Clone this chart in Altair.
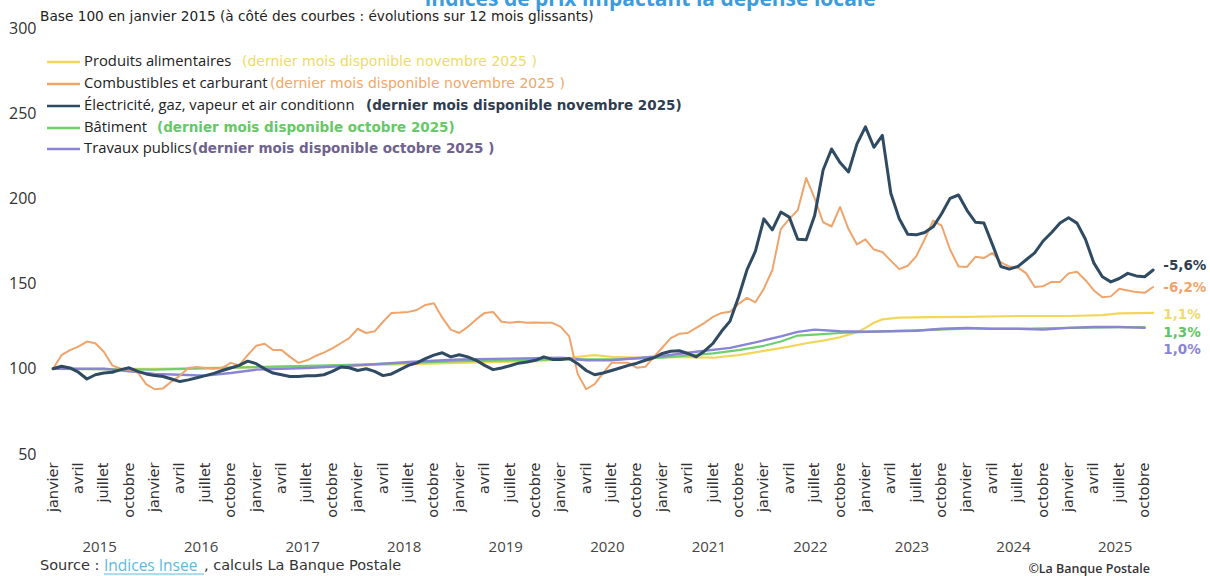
import altair as alt
import pandas as pd

FONT = "Open Sans"
WIDE = "DejaVu Sans"

# ---- data (month index 0 = janvier 2015) ----
fuel = [100, 108, 111, 113, 116, 115, 110, 102, 100, 99.5,
        98, 91, 88, 88.5, 92.5, 96, 100.5, 101, 100.5, 100,
        100.5, 103.5, 102, 108, 113.5, 114.7, 111, 111, 107, 103.5,
        105, 107.5, 109.5, 112, 115, 118, 123.5, 121, 122, 127.6,
        132.8, 133, 133.4, 134.5, 137.5, 138.5, 130, 123, 121, 124.6,
        129, 132.8, 133.4, 127.6, 127, 127.6, 127, 127.2, 127, 127,
        124.6, 119, 97, 88, 91, 97.5, 103.5, 103.5, 103.5, 100.6,
        101.2, 107, 112.5, 118, 120.5, 121, 124, 127, 130.5, 132.8,
        133.5, 138, 141.6, 139, 147, 158, 182, 188, 193, 212,
        200, 186, 183.5, 195, 182, 173, 176, 170, 168.5, 163.5,
        158.5, 160.5, 166, 176, 187, 184, 170, 160, 159.8, 165.7,
        165, 168, 162.5, 160, 159.5, 156, 148, 148.5, 151, 151,
        156, 157, 152, 146, 142, 142.5, 147, 146, 145, 144.6,
        148]

elec = [100, 101.5, 100.5, 98, 94, 96.5, 97.5, 98, 99.5, 100.6,
        98.5, 97, 96, 95.5, 94, 92.5, 93.5, 94.7, 96, 97.3,
        99, 100.5, 102, 104.5, 103, 100, 97.5, 96.5, 95.5, 95.5,
        95.9, 95.9, 96.5, 98.5, 101, 100.6, 99, 100, 98.5, 96,
        97, 99.5, 102, 103.5, 106, 108, 109.4, 107, 108.2, 107,
        105, 102, 99.5, 100.5, 101.8, 103.3, 104, 105, 107, 105.5,
        105.5, 106, 103, 99, 96.5, 97.5, 99, 100.5, 102, 103.3,
        105, 106.5, 109, 110.3, 110.6, 109, 107, 110.5, 115, 122,
        128, 142, 158, 169, 188, 181.5, 192, 189, 176, 175.7,
        190, 216.7, 229, 221, 215.5, 232, 242, 230, 237, 203,
        188, 179, 178.6, 180, 183.3, 191, 200, 202, 193, 186,
        185.6, 173, 160, 158.5, 160, 164, 168, 175, 180, 185.6,
        188.6, 185.5, 176, 162, 154, 151, 153, 156, 154.5, 154,
        158]

food_m = [0, 12, 24, 36, 48, 57, 60, 62, 64, 66, 69, 72, 78, 81, 84, 87, 89, 91, 93,
          95, 96, 97, 98, 100, 104, 108, 114, 120, 124, 126, 130]
food_v = [100, 100, 101, 102, 103.5, 104.5, 105.5, 107, 108, 107, 106.5, 107, 106.5, 108,
          110.5, 113, 115, 116.5, 118.5, 121.5, 124, 127, 129, 130, 130.3, 130.5, 131, 131,
          131.5, 132.5, 132.8]

bat_m = [0, 12, 24, 36, 48, 60, 63, 66, 72, 78, 81, 84, 86, 88, 90, 93, 96, 102, 108,
         114, 120, 126, 129]
bat_v = [100, 99.5, 101, 102.5, 104.5, 105.5, 105.5, 105.5, 106.5, 109, 111, 113.5, 116,
         119.5, 120, 121, 121.7, 122.5, 123.5, 123.5, 124, 124.5, 124.5]

tp_m = [0, 6, 12, 15, 18, 21, 24, 30, 36, 42, 48, 54, 60, 63, 66, 72, 76, 80, 83, 86, 88,
        90, 93, 96, 99, 102, 105, 108, 111, 114, 117, 120, 123, 126, 129]
tp_v = [100, 100, 97, 96.5, 96, 97.5, 99.5, 100.5, 102, 104, 105.5, 106, 106.5, 105, 105,
        107.5, 110, 112.3, 115.5, 119, 121.7, 123, 122, 121.7, 122, 122.3, 123.5, 124, 123.5,
        123.5, 123, 124, 124.5, 124.5, 124]

series_names = ["Produits alimentaires", "Combustibles et carburant",
                "Électricité, gaz, vapeur et air conditionnement", "Bâtiment",
                "Travaux publics"]
series_notes = ["(dernier mois disponible  novembre 2025 )",
                "(dernier mois disponible novembre 2025 )",
                "(dernier mois disponible novembre 2025)",
                "(dernier mois disponible octobre 2025)",
                "(dernier mois disponible octobre 2025 )"]
end_labels = ["1,1%", "-6,2%", "-5,6%", "1,3%", "1,0%"]
end_label_y = [131.6, 147.5, 160.4, 121.2, 111.1]
month_names = ["janvier", "avril", "juillet", "octobre"]
years = list(range(2015, 2026))

# ---- styles / layout ----
line_colors = ["#F2D65A", "#EFA46C", "#2F4B63", "#6FCF6F", "#8A84D4"]
note_colors = ["#EEDB66", "#F0A868", "#2E3D50", "#66C866", "#6E6290"]
end_colors = ["#EEDB6A", "#EFA46C", "#2E3D50", "#5FC65F", "#8A84D4"]
line_widths = [2.2, 2.0, 3.0, 2.2, 2.4]
draw_order = [0, 3, 4, 1, 2]
legend_y = [34, 56, 78, 100, 121]
note_x = [197, 225, 321, 112, 147]
note_weight = ["normal", "normal", "bold", "bold", "bold"]
note_size = [14, 14, 13.5, 13.5, 13.5]

series_x = [food_m, list(range(len(fuel))), list(range(len(elec))), bat_m, tp_m]
series_v = [food_v, fuel, elec, bat_v, tp_v]

xscale = alt.Scale(domain=[-0.95, 131.4], nice=False, zero=False)
yscale = alt.Scale(domain=[50, 300], nice=False, zero=False)

label_expr = "[" + ",".join("'%s'" % n for n in month_names) + "][(datum.value/3)%4]"
x_axis = alt.Axis(values=list(range(0, 130, 3)), labelExpr=label_expr,
                  labelAngle=270, labelFontSize=14.5, labelColor="#333333", labelFont=WIDE,
                  domain=False, ticks=False, grid=False, title=None, labelPadding=8,
                  labelFlush=False, labelOverlap=False)
y_axis = alt.Axis(values=[50, 100, 150, 200, 250, 300], domain=False, ticks=False, grid=False,
                  title=None, labelFontSize=16, labelPadding=9, labelColor="#333333",
                  labelFont=FONT, labelFlush=False, labelOverlap=False)

X = alt.X("m:Q", scale=xscale, axis=x_axis)
Y = alt.Y("v:Q", scale=yscale, axis=y_axis)

layers = []
for i in draw_order:
    df = pd.DataFrame({"m": series_x[i], "v": series_v[i]})
    layers.append(
        alt.Chart(df).mark_line(color=line_colors[i], strokeWidth=line_widths[i],
                                strokeJoin="round", strokeCap="round").encode(x=X, y=Y)
    )

# end labels
end_df = pd.DataFrame({"m": [131.2] * 5, "v": end_label_y, "t": end_labels,
                       "c": end_colors})
layers.append(
    alt.Chart(end_df).mark_text(align="left", baseline="middle", font=WIDE, fontSize=13.5,
                                fontWeight="bold").encode(
        x=X, y=Y, text="t:N", color=alt.Color("c:N", scale=None))
)

# year labels
year_df = pd.DataFrame({"m": [12 * k + 5.5 for k in range(len(years))],
                        "t": [str(y) for y in years]})
layers.append(
    alt.Chart(year_df).mark_text(align="center", baseline="middle", font=FONT, fontSize=15,
                                 color="#444444").encode(
        x=X, y=alt.value(519), text="t:N")
)

one = alt.Data(values=[{}])


def txt(t, x, y, size, color, weight="normal", align="left", baseline="middle", limit=0,
        font=FONT):
    kw = dict(align=align, baseline=baseline, font=font, fontSize=size, color=color,
              fontWeight=weight, text=t)
    if limit:
        kw["limit"] = limit
        kw["ellipsis"] = "\u200b"
    return alt.Chart(one).mark_text(**kw).encode(x=alt.value(x), y=alt.value(y))


# legend
for i in range(5):
    layers.append(alt.Chart(one).mark_rule(color=line_colors[i], strokeWidth=2.5).encode(
        x=alt.value(2), x2=alt.value(35), y=alt.value(legend_y[i])))
    layers.append(txt(series_names[i], 39, legend_y[i], 14.8, "#222222", limit=274))
    layers.append(txt(series_notes[i], note_x[i], legend_y[i], note_size[i], note_colors[i],
                      weight=note_weight[i], font=WIDE))

# title (cropped at top) and subtitle
layers.append(txt("Indices de prix impactant la dépense locale", 605, -22, 21, "#3C9BDC",
                  weight="bold", align="center", baseline="alphabetic"))
layers.append(txt("Base 100 en janvier 2015 (à côté des courbes : évolutions sur 12 mois glissants)",
                  -5, -11, 13.7, "#222222", font=WIDE))

# source
layers.append(txt("Source :", -5, 538, 14.5, "#333333", font=WIDE))
layers.append(txt("Indices Insee", 59, 538, 15.5, "#5DB9E3"))
layers.append(alt.Chart(one).mark_rule(color="#5DB9E3", strokeWidth=1).encode(
    x=alt.value(59), x2=alt.value(159), y=alt.value(546)))
layers.append(txt(", calculs La Banque Postale", 159, 538, 14.5, "#333333", font=WIDE))
layers.append(txt("©La Banque Postale", 1105, 541, 12.5, "#333333", weight=600, align="right"))

chart = alt.layer(*layers).properties(
    width=1120, height=426,
    autosize=alt.AutoSizeParams(type="none"),
    padding={"left": 45, "top": 28, "right": 45, "bottom": 122},
    background="white",
).configure_view(stroke=None)

chart.save("out.html", embed_options={"renderer": "svg", "actions": False})
